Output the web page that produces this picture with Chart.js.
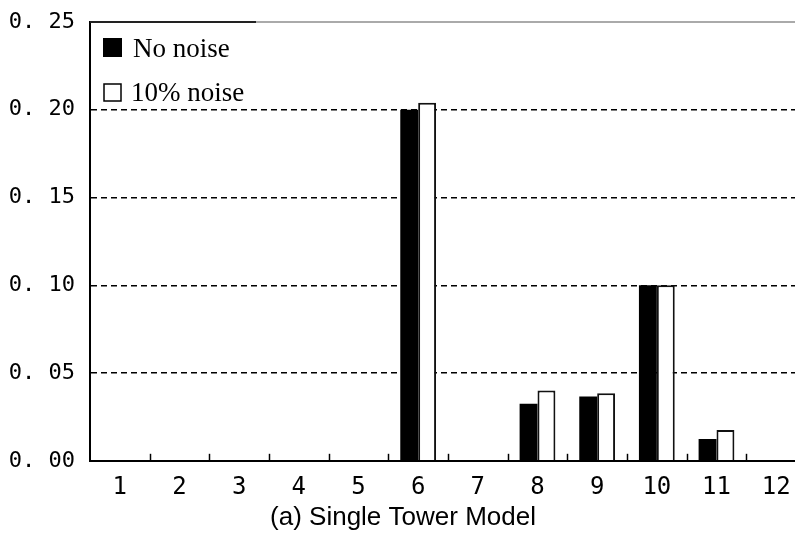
<!DOCTYPE html>
<html>
<head>
<meta charset="utf-8">
<script src="https://cdn.jsdelivr.net/npm/chart.js@4/dist/chart.umd.min.js"></script>
<style>
html,body{margin:0;padding:0;background:#fff;overflow:hidden;}
#wrap{width:795px;height:535px;overflow:hidden;position:relative;}
canvas{display:block;}
</style>
</head>
<body>
<div id="wrap"><canvas id="c" width="811" height="535"></canvas></div>
<script>
const categories = ['1','2','3','4','5','6','7','8','9','10','11','12'];
const noNoise = [0,0,0,0,0,0.200,0,0.0325,0.0366,0.100,0.0124,0];
const tenNoise = [0,0,0,0,0,0.204,0,0.0400,0.0385,0.100,0.0175,0];
const seriesLabels = ['No noise','10% noise'];
const yTickValues = [0,0.05,0.10,0.15,0.20,0.25];
const yTickLabels = ['0. 00','0. 05','0. 10','0. 15','0. 20','0. 25'];
const titleText = '(a) Single Tower Model';

const framePlugin = {
  id: 'frame',
  afterDatasetsDraw(chart) {
    const ctx = chart.ctx, a = chart.chartArea, xs = chart.scales.x;
    ctx.save();
    // top border
    ctx.lineWidth = 2;
    ctx.strokeStyle = '#aaaaaa';
    ctx.beginPath(); ctx.moveTo(a.left, a.top); ctx.lineTo(a.right + 1, a.top); ctx.stroke();
    ctx.strokeStyle = '#222';
    ctx.beginPath(); ctx.moveTo(a.left, a.top); ctx.lineTo(256, a.top); ctx.stroke();
    // inward tick marks at category boundaries
    ctx.lineWidth = 1.5;
    ctx.strokeStyle = '#000';
    const n = categories.length;
    const w = (xs.getPixelForValue(1) - xs.getPixelForValue(0));
    for (let i = 0; i < n - 1; i++) {
      const x = Math.round(xs.getPixelForValue(i) + w / 2) + 0.5;
      ctx.beginPath(); ctx.moveTo(x, a.bottom); ctx.lineTo(x, a.bottom - 7); ctx.stroke();
    }
    // legend inside the plot area
    const ds = chart.data.datasets;
    ctx.font = '27px "Liberation Serif", serif';
    ctx.textBaseline = 'alphabetic';
    ctx.fillStyle = ds[0].backgroundColor;
    ctx.fillRect(103, 38, 19, 19);
    ctx.fillStyle = '#000';
    ctx.fillText(ds[0].label, 133, 57);
    ctx.lineWidth = 1.5;
    ctx.strokeStyle = '#000';
    ctx.fillStyle = ds[1].backgroundColor;
    ctx.fillRect(104, 84, 17, 17);
    ctx.strokeRect(104, 84, 17, 17);
    ctx.fillStyle = '#000';
    ctx.fillText(ds[1].label, 131, 101);
    ctx.restore();
  }
};

new Chart(document.getElementById('c'), {
  type: 'bar',
  data: {
    labels: categories,
    datasets: [
      { label: seriesLabels[0], data: noNoise, backgroundColor: '#000000', borderColor: '#000000', borderWidth: 0 },
      { label: seriesLabels[1], data: tenNoise, backgroundColor: '#ffffff', borderColor: '#111111', borderWidth: 2 }
    ]
  },
  options: {
    responsive: false,
    animation: false,
    devicePixelRatio: 1,
    layout: { padding: { top: 22, right: 5, left: 0, bottom: 0 } },
    datasets: { bar: { categoryPercentage: 0.60, barPercentage: 1.0 } },
    plugins: {
      legend: { display: false },
      tooltip: { enabled: false },
      title: {
        display: true,
        position: 'bottom',
        text: titleText,
        color: '#000',
        font: { family: '"Liberation Sans", Arial, sans-serif', size: 26, weight: 'normal' },
        padding: { top: 3, bottom: 2 }
      }
    },
    scales: {
      x: {
        grid: { display: false, drawTicks: false },
        border: { display: true, color: '#000', width: 2 },
        ticks: {
          color: '#000',
          padding: 13,
          font: { family: '"DejaVu Sans Mono", "Liberation Mono", monospace', size: 24 }
        },
        afterFit(s) { s.height = 38; }
      },
      y: {
        min: 0, max: 0.25,
        afterBuildTicks(s) { s.ticks = yTickValues.map(v => ({ value: v })); },
        grid: {
          drawTicks: false,
          color: ctx => (ctx.tick && (ctx.tick.value === 0 || ctx.tick.value === 0.25)) ? 'rgba(0,0,0,0)' : '#000',
          lineWidth: 1.5
        },
        border: { display: true, color: '#000', width: 2, dash: [6, 4] },
        ticks: {
          color: '#000',
          padding: 15,
          font: { family: '"DejaVu Sans Mono", "Liberation Mono", monospace', size: 22 },
          callback: (v, i) => yTickLabels[i]
        },
        afterFit(s) { s.width = 90; s.paddingTop = 0; s.paddingBottom = 0; }
      }
    }
  },
  plugins: [framePlugin]
});
</script>
</body>
</html>
